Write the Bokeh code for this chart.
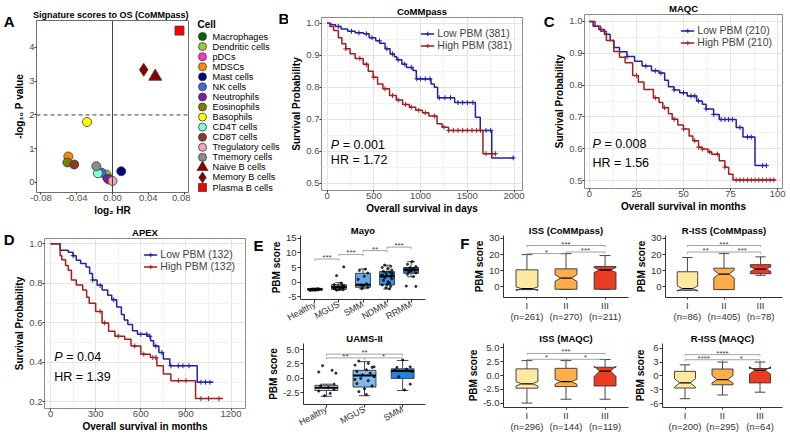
import numpy as np
from bokeh.plotting import figure
from bokeh.layouts import row, column
from bokeh.models import (ColumnDataSource, Span, Legend, LegendItem,
                          FixedTicker, LinearAxis, Range1d, NumeralTickFormatter)
from bokeh.core.properties import value
from bokeh.embed import file_html
from bokeh.resources import INLINE

FONT = "Liberation Sans"

# ---------------- Panel A data ----------------
cells = ["Macrophages", "Dendritic cells", "pDCs", "MDSCs", "Mast cells", "NK cells",
         "Neutrophils", "Eosinophils", "Basophils", "CD4T cells", "CD8T cells",
         "Tregulatory cells", "Tmemory cells", "Naive B cells", "Memory B cells", "Plasma B cells"]
log2_hr = [-0.006, -0.0066, -0.0035, -0.0494, 0.0098, -0.0122, -0.0052, -0.0505, -0.0285,
           -0.0163, -0.0428, 0.0000, -0.0181, 0.0478, 0.0349, 0.0749]
neglog_p = [0.15, 0.23, 0.08, 0.77, 0.33, 0.29, 0.11, 0.59, 1.79, 0.27, 0.53, 0.04, 0.48,
            3.14, 3.34, 4.50]
cell_colors = ["#006400", "#9ACD32", "#FF33CC", "#FF8C00", "#000080", "#3A6FE0", "#7B1FA2",
               "#808000", "#FFFF00", "#7FFFD4", "#8B3A2B", "#F4A6AE", "#8C8C8C", "#8B0000",
               "#8B0000", "#FF0000"]
cell_markers = ["circle"] * 13 + ["triangle", "diamond", "square"]

# ---------------- KM data ----------------
b_low_t = [0, 40, 90, 150, 220, 300, 390, 450, 520, 562, 620, 674, 720, 744, 800, 849, 919, 954,
           1112, 1147, 1182, 1364, 1586, 1638, 1761, 2000]
b_low_s = [1.0, 0.995, 0.99, 0.982, 0.975, 0.97, 0.967, 0.955, 0.945, 0.9375, 0.92, 0.904, 0.895,
           0.886, 0.872, 0.862, 0.852, 0.826, 0.81, 0.80, 0.767, 0.752, 0.706, 0.665, 0.579, 0.579]
b_low_cens = [120, 260, 340, 420, 480, 560, 640, 700, 760, 830, 900, 960, 1000, 1050, 1100, 1200,
              1260, 1320, 1400, 1450, 1500, 1560, 1700, 1750, 1990]
b_high_t = [0, 30, 70, 120, 158, 200, 246, 300, 386, 440, 492, 540, 597, 668, 740, 808, 880, 948,
            1020, 1088, 1176, 1230, 1299, 1667, 1808]
b_high_s = [1.0, 0.99, 0.977, 0.955, 0.936, 0.92, 0.905, 0.89, 0.872, 0.85, 0.831, 0.81, 0.795,
            0.774, 0.76, 0.746, 0.737, 0.728, 0.72, 0.71, 0.686, 0.675, 0.665, 0.592, 0.592]
b_high_cens = [200, 350, 420, 500, 620, 700, 760, 840, 900, 980, 1050, 1150, 1250, 1300, 1350,
               1400, 1450, 1500, 1550, 1600, 1640, 1700, 1760, 1800]

c_low_t = [0, 2, 5, 8, 11, 13, 16, 20, 24, 28, 33, 37, 40, 42, 45, 48, 52, 57, 60, 62, 66, 69,
           78, 81.6, 88, 94]
c_low_s = [1.0, 0.985, 0.975, 0.96, 0.94, 0.918, 0.905, 0.89, 0.875, 0.86, 0.845, 0.838, 0.815,
           0.795, 0.785, 0.776, 0.766, 0.75, 0.74, 0.725, 0.708, 0.692, 0.667, 0.637, 0.547, 0.547]
c_low_cens = [20, 30, 35, 38, 45, 50, 54, 56, 58, 62, 66, 70, 72, 74, 76, 80, 84, 86, 92, 94]
c_high_t = [0, 3, 6, 9, 13, 16, 19, 23, 26, 29, 34, 37, 39, 42, 44, 47, 50, 53, 55, 58, 60, 63,
            65, 69, 72, 74, 76.3, 99]
c_high_s = [1.0, 0.985, 0.969, 0.94, 0.906, 0.888, 0.87, 0.83, 0.81, 0.786, 0.76, 0.745, 0.729,
            0.71, 0.693, 0.675, 0.662, 0.64, 0.625, 0.605, 0.599, 0.59, 0.583, 0.562, 0.542,
            0.52, 0.502, 0.502]
c_high_cens = [25, 35, 40, 45, 50, 56, 58, 60, 64, 68, 72, 78, 80, 82, 84, 86, 88, 90, 92, 94,
               96, 98]

d_low_t = [0, 64, 118, 150, 171, 200, 236, 260, 279, 310, 343, 380, 407, 440, 471, 490, 514, 545,
           578, 642, 665, 685, 720, 750, 793, 975, 1082]
d_low_s = [1.0, 0.967, 0.958, 0.94, 0.917, 0.9, 0.883, 0.85, 0.817, 0.79, 0.767, 0.74, 0.717,
           0.68, 0.642, 0.615, 0.592, 0.56, 0.542, 0.533, 0.51, 0.483, 0.45, 0.417, 0.383, 0.30,
           0.30]
d_low_cens = [150, 280, 330, 420, 600, 640, 660, 700, 740, 800, 850, 880, 920, 1000, 1030, 1060]
d_high_t = [0, 64, 75, 100, 118, 139, 171, 214, 240, 257, 300, 343, 386, 428, 493, 535, 600, 664,
            707, 750, 800, 964, 1146]
d_high_s = [1.0, 0.94, 0.92, 0.89, 0.867, 0.817, 0.792, 0.767, 0.73, 0.70, 0.658, 0.60, 0.558,
            0.533, 0.517, 0.483, 0.442, 0.425, 0.383, 0.342, 0.308, 0.217, 0.217]
d_high_cens = [330, 360, 450, 560, 620, 680, 700, 850, 900, 1000, 1050, 1120]

# ---------------- Panel E data ----------------
mayo_groups = ["Healthy", "MGUS", "SMM", "NDMM", "RRMM"]
mayo_lo = [-3.0, -2.8, -2.3, -2.4, 1.8]
mayo_q1 = [-2.8, -2.5, -1.8, -1.0, 3.0]
mayo_med = [-2.5, -1.8, -0.9, 2.0, 4.2]
mayo_q3 = [-2.3, -0.9, 3.0, 3.6, 5.0]
mayo_hi = [-2.1, -0.2, 4.5, 5.8, 7.0]
mayo_pt_grp = [1] * 9 + [2] * 16 + [3] * 10 + [4] * 24 + [5] * 14
mayo_pt_val = [-2.9, -2.7, -2.6, -2.5, -2.5, -2.4, -2.3, -2.8, -2.6,
               5.2, 2.2, -0.4, -0.9, -1.2, -1.5, -1.7, -1.8, -2.0, -2.1, -2.3, -2.5, -2.6, -2.8, -1.4, -1.9,
               4.4, 4.0, 3.1, 2.0, 0.9, -0.6, -1.0, -1.4, -1.9, -2.3,
               5.8, 5.4, 5.0, 4.6, 4.1, 3.7, 3.4, 3.1, 2.8, 2.5, 2.2, 1.9, 1.5, 1.1, 0.6, 0.1, -0.4,
               -1.0, -1.5, -2.0, -2.3, 3.0, 2.0, -0.8,
               7.0, 6.1, 5.3, 4.9, 4.6, 4.3, 4.1, 3.8, 3.5, 3.1, 2.6, 1.9, -1.4, -1.5]
mayo_pt_dx = [-0.2, -0.1, 0.05, 0.15, -0.05, 0.2, 0.1, 0.0, -0.15,
              0.2, -0.1, 0.1, -0.2, 0.15, -0.05, 0.05, 0.2, -0.15, 0.1, -0.2, 0.0, 0.18, -0.1, 0.22, -0.22,
              0.1, -0.15, 0.2, 0.05, -0.2, 0.15, -0.1, 0.0, 0.2, -0.05,
              -0.1, 0.15, -0.2, 0.05, 0.2, -0.15, 0.1, -0.05, 0.2, -0.2, 0.0, 0.15, -0.1, 0.2, -0.15,
              0.05, 0.1, -0.2, 0.15, -0.05, 0.1, 0.22, -0.22, 0.0,
              0.05, -0.15, 0.2, -0.05, 0.1, -0.2, 0.15, 0.0, -0.1, 0.2, -0.15, 0.1, -0.2, 0.2]
mayo_brackets = [(1, 2, 7.9, "***"), (2, 3, 9.5, "***"), (3, 4, 10.8, "**"), (4, 5, 12.0, "***")]

uams_groups = ["Healthy", "MGUS", "SMM"]
uams_lo = [-3.1, -3.0, -2.1]
uams_q1 = [-2.1, -1.5, 0.0]
uams_med = [-1.6, 0.5, 1.3]
uams_q3 = [-1.2, 1.4, 1.65]
uams_hi = [-1.0, 2.9, 3.1]
uams_pt_grp = [1] * 11 + [2] * 18 + [3] * 9
uams_pt_val = [2.2, 1.4, 1.1, 0.9, -1.0, -1.3, -1.6, -1.9, -2.2, -2.6, -3.0,
               3.0, 2.6, 2.3, 1.9, 1.5, 1.2, 0.9, 0.6, 0.3, 0.0, -0.4, -0.9, -1.3, -1.8, -2.3, -2.8, 2.0, -0.2,
               3.2, 2.0, 1.9, 1.6, 1.4, 1.2, 0.3, -1.0, -2.0]
uams_pt_dx = [-0.1, 0.15, -0.2, 0.25, 0.2, -0.15, 0.05, 0.2, -0.2, 0.1, -0.05,
              -0.15, 0.1, -0.25, 0.2, 0.05, -0.2, 0.15, -0.05, 0.25, -0.1, 0.1, -0.2, 0.2, 0.0, -0.15, 0.05, 0.25, -0.25,
              0.0, 0.2, -0.15, 0.1, -0.2, 0.25, -0.1, 0.2, 0.05]
uams_brackets = [(1, 3, 4.2, "**"), (1, 2, 3.55, "**"), (2, 3, 3.55, "*")]

# ---------------- Panel F data ----------------
stage_labels = ["I", "II", "III"]
iss_c_n = ["(n=261)", "(n=270)", "(n=211)"]
iss_c_lo = [-1.6, -1.4, -1.4]
iss_c_q1 = [-1.6, -1.4, -1.4]
iss_c_med = [-1.0, 5.5, 10.5]
iss_c_q3 = [10.6, 11.2, 12.6]
iss_c_hi = [20.0, 20.6, 19.4]
iss_c_nlo = [-2.2, 3.5, 9.0]
iss_c_nhi = [0.0, 7.6, 12.0]
iss_c_br = [(1, 3, 25.6, "***"), (1, 2, 20.6, "*"), (2, 3, 21.6, "***")]

riss_c_n = ["(n=86)", "(n=405)", "(n=78)"]
riss_c_lo = [-2.0, -1.6, 7.2]
riss_c_q1 = [-2.0, -1.6, 8.2]
riss_c_med = [-1.0, 8.0, 11.0]
riss_c_q3 = [9.4, 11.6, 13.8]
riss_c_hi = [18.2, 20.6, 18.6]
riss_c_nlo = [-2.6, 5.5, 9.6]
riss_c_nhi = [0.6, 10.5, 12.4]
riss_c_br = [(1, 3, 25.6, "***"), (1, 2, 21.6, "**"), (2, 3, 21.6, "***")]

iss_m_n = ["(n=296)", "(n=144)", "(n=119)"]
iss_m_lo = [-5.0, -4.3, -4.3]
iss_m_q1 = [-2.3, -2.0, -1.9]
iss_m_med = [-1.5, -1.1, 0.8]
iss_m_q3 = [1.2, 1.3, 1.5]
iss_m_hi = [2.7, 2.7, 2.9]
iss_m_nlo = [-1.9, -1.6, -0.2]
iss_m_nhi = [-1.1, -0.7, 1.7]
iss_m_br = [(1, 3, 4.0, "***"), (1, 2, 2.94, "*"), (2, 3, 2.94, "*")]

riss_m_n = ["(n=200)", "(n=295)", "(n=64)"]
riss_m_lo = [-4.9, -4.1, -3.5]
riss_m_q1 = [-2.6, -1.9, -1.5]
riss_m_med = [-1.5, -0.8, 1.2]
riss_m_q3 = [1.0, 1.5, 1.6]
riss_m_hi = [2.4, 3.0, 3.0]
riss_m_nlo = [-2.4, -1.5, 0.4]
riss_m_nhi = [-0.6, 0.1, 2.0]
riss_m_br = [(1, 3, 4.6, "****"), (1, 2, 3.5, "****"), (2, 3, 3.5, "*")]

# ---------------- helpers ----------------
def base_fig(w, h, xr, yr, mb, title=None, talign="center"):
    p = figure(width=w, height=h, x_range=xr, y_range=yr, output_backend="svg",
               toolbar_location=None, min_border_left=mb[0], min_border_right=mb[1],
               min_border_top=mb[2], min_border_bottom=mb[3], title=title)
    p.frame_align = False
    p.background_fill_color = "white"
    p.border_fill_color = "white"
    if title:
        p.title.align = talign
        p.title.text_font = FONT
        p.title.text_font_size = "9.5px"
        p.title.text_font_style = "bold"
        p.title.text_color = "black"
        p.title.text_line_height = 1.0
        p.title.standoff = 1
        p.title.offset = 0
    return p


def style_axis(ax, tick_size="9.5px", color="#4d4d4d", label_size="10px"):
    ax.major_label_text_font = FONT
    ax.major_label_text_font_size = tick_size
    ax.major_label_text_color = color
    ax.major_label_text_line_height = 1.0
    ax.axis_label_text_font = FONT
    ax.axis_label_text_font_size = label_size
    ax.axis_label_text_font_style = "bold"
    ax.axis_label_text_color = "black"
    ax.axis_label_text_line_height = 1.0
    ax.major_tick_in = 0
    ax.major_tick_out = 3
    ax.major_tick_line_color = "#333333"
    ax.minor_tick_line_color = None
    ax.minor_tick_out = 0
    ax.major_label_standoff = 1
    ax.axis_label_standoff = 1


def letter_axis(p, txt, yval, standoff=1):
    ax = LinearAxis(ticker=FixedTicker(ticks=[yval]), major_label_overrides={yval: txt})
    ax.axis_line_color = None
    ax.major_tick_line_color = None
    ax.minor_tick_line_color = None
    ax.major_tick_out = 0
    ax.major_tick_in = 0
    ax.minor_tick_out = 0
    ax.major_label_standoff = standoff
    ax.major_label_orientation = "horizontal"
    ax.major_label_text_font = FONT
    ax.major_label_text_font_size = "15px"
    ax.major_label_text_font_style = "bold"
    ax.major_label_text_color = "black"
    ax.major_label_text_line_height = 1.0
    p.add_layout(ax, "left")


def surv_at(t, s, c):
    t = np.asarray(t, dtype=float)
    s = np.asarray(s, dtype=float)
    idx = np.searchsorted(t, np.asarray(c, dtype=float), side="right") - 1
    return s[idx]


BLUE = "#2222A8"
RED = "#A81C1C"


def km_fig(w, h, mb, xr, yr, xt, xminor, yt, yminor, title, xlabel, curves, labels,
           ptxt, hrtxt, txt_x, p_y, hr_y):
    p = base_fig(w, h, Range1d(*xr), Range1d(*yr), mb, title)
    p.xaxis.ticker = FixedTicker(ticks=xt)
    p.yaxis.ticker = FixedTicker(ticks=yt)
    p.xaxis.formatter = NumeralTickFormatter(format="0")
    p.yaxis.formatter = NumeralTickFormatter(format="0.0")
    p.xgrid.ticker = FixedTicker(ticks=xt, minor_ticks=xminor)
    p.ygrid.ticker = FixedTicker(ticks=yt, minor_ticks=yminor)
    for g in (p.xgrid, p.ygrid):
        g.grid_line_color = "#e4e4e4"
        g.minor_grid_line_color = "#f1f1f1"
    p.outline_line_color = "#8a8a8a"
    p.xaxis.axis_label = xlabel
    p.yaxis.axis_label = "Survival Probability"
    for ax in (p.xaxis, p.yaxis):
        style_axis(ax)
        ax.axis_line_color = None
        ax.major_tick_out = 2
        ax.major_label_standoff = 0
    items = []
    for (t, s, cens, col), lab in zip(curves, labels):
        r = p.step(x=t, y=s, mode="after", line_color=col, line_width=1.5)
        c = p.scatter(x=cens, y=surv_at(t, s, cens), marker="cross", size=5,
                      line_color=col, line_width=1)
        items.append(LegendItem(label=lab, renderers=[r, c]))
    leg = Legend(items=items, location="top_right", border_line_color=None,
                 background_fill_alpha=0, label_text_font=FONT, label_text_font_size="10.5px",
                 glyph_width=14, glyph_height=11, label_height=11, spacing=0, padding=2,
                 margin=10, label_standoff=3)
    p.add_layout(leg)
    p.text(x=[txt_x], y=[p_y], text=["P"], text_font=value(FONT), text_font_size="12.5px",
           text_font_style="italic", text_baseline="middle", text_color="black")
    p.text(x=[txt_x], y=[p_y], x_offset=12, text=[ptxt], text_font=value(FONT),
           text_font_size="12.5px", text_baseline="middle", text_color="black")
    p.text(x=[txt_x], y=[hr_y], text=[hrtxt], text_font=value(FONT), text_font_size="12.5px",
           text_baseline="middle", text_color="black")
    return p


def box_fig(w, h, mb, xr, yr, yt, yfmt, title):
    p = base_fig(w, h, Range1d(*xr), Range1d(*yr), mb, title)
    p.title.standoff = 0
    p.xgrid.visible = False
    p.ygrid.visible = False
    p.outline_line_color = None
    p.yaxis.ticker = FixedTicker(ticks=yt)
    p.yaxis.formatter = NumeralTickFormatter(format=yfmt)
    p.yaxis.axis_label = "PBM score"
    for ax in (p.xaxis, p.yaxis):
        style_axis(ax, color="#333333")
        ax.axis_line_color = "#333333"
    return p


def add_boxes(p, n, lo, q1, med, q3, hi, nlo, nhi, colors, hw, notch, med_w):
    xs = list(range(1, n + 1))
    polx, poly = [], []
    ind = hw * 0.5 if notch else 0.0
    for i, x in enumerate(xs):
        if notch:
            polx.append([x - hw, x + hw, x + hw, x + hw - ind, x + hw, x + hw, x - hw, x - hw,
                         x - hw + ind, x - hw])
            poly.append([q1[i], q1[i], nlo[i], med[i], nhi[i], q3[i], q3[i], nhi[i], med[i], nlo[i]])
        else:
            polx.append([x - hw, x + hw, x + hw, x - hw])
            poly.append([q1[i], q1[i], q3[i], q3[i]])
    p.segment(x0=xs, y0=q3, x1=xs, y1=hi, line_color="#333333", line_width=0.9)
    p.segment(x0=xs, y0=q1, x1=xs, y1=lo, line_color="#333333", line_width=0.9)
    p.segment(x0=[x - hw / 2 for x in xs], y0=hi, x1=[x + hw / 2 for x in xs], y1=hi,
              line_color="#333333", line_width=0.9)
    p.segment(x0=[x - hw / 2 for x in xs], y0=lo, x1=[x + hw / 2 for x in xs], y1=lo,
              line_color="#333333", line_width=0.9)
    p.patches(xs=polx, ys=poly, fill_color=colors, line_color="#333333", line_width=0.9)
    p.segment(x0=[x - hw + ind for x in xs], y0=med, x1=[x + hw - ind for x in xs], y1=med,
              line_color="black", line_width=med_w)


def add_brackets(p, br, tip):
    x0, y0, x1, y1, tx, ty, tl = [], [], [], [], [], [], []
    for a, b, y, lab in br:
        x0 += [a, a, b]
        y0 += [y, y, y]
        x1 += [b, a, b]
        y1 += [y, y - tip, y - tip]
        tx.append((a + b) / 2)
        ty.append(y)
        tl.append(lab)
    p.segment(x0=x0, y0=y0, x1=x1, y1=y1, line_color="#8c8c8c", line_width=0.8)
    p.text(x=tx, y=ty, text=tl, text_font=value(FONT), text_font_size="8px",
           text_align="center", text_baseline="bottom", y_offset=3, text_color="#444444")


def stage_axes(p, nlabels):
    p.xaxis.ticker = FixedTicker(ticks=[1, 2, 3])
    p.xaxis.major_label_overrides = {i + 1: s for i, s in enumerate(stage_labels)}
    p.xaxis.major_label_standoff = 0
    p.xaxis.major_tick_out = 2
    ax2 = LinearAxis(ticker=FixedTicker(ticks=[1, 2, 3]),
                     major_label_overrides={i + 1: s for i, s in enumerate(nlabels)})
    style_axis(ax2, color="#333333")
    ax2.axis_line_color = None
    ax2.major_tick_line_color = None
    ax2.major_tick_out = 0
    ax2.major_label_standoff = -3
    p.add_layout(ax2, "below")


# ---------------- Panel A ----------------
pa = base_fig(190, 222, Range1d(-0.085, 0.085), Range1d(-0.3, 4.8), (29, 2, 20, 30),
              "Signature scores to OS (CoMMpass)", talign="right")
pa.title.text_font_size = "9px"
pa.xgrid.visible = False
pa.ygrid.visible = False
pa.outline_line_color = "#6e6e6e"
pa.xaxis.ticker = FixedTicker(ticks=[-0.08, -0.04, 0.0, 0.04, 0.08])
pa.xaxis.formatter = NumeralTickFormatter(format="0.00")
pa.yaxis.ticker = FixedTicker(ticks=[0, 1, 2, 3, 4])
pa.xaxis.axis_label = "log\u2082 HR"
pa.yaxis.axis_label = "-log\u2081\u2080 P value"
for ax in (pa.xaxis, pa.yaxis):
    style_axis(ax)
    ax.axis_line_color = None
    ax.major_tick_out = 2
    ax.major_label_standoff = 0
letter_axis(pa, "A", 4.78, standoff=-3)
pa.add_layout(Span(location=0, dimension="height", line_color="#444444", line_width=1))
pa.add_layout(Span(location=2, dimension="width", line_color="#444444", line_width=1,
                   line_dash="4 3"))
sizes = [9 if m == "circle" else (13 if m in ("triangle", "diamond") else 9) for m in cell_markers]
src_a = ColumnDataSource(dict(x=log2_hr, y=neglog_p, c=cell_colors, m=cell_markers, s=sizes))
pa.scatter("x", "y", source=src_a, marker="m", size="s", fill_color="c",
           line_color="#3a3a3a", line_width=0.8)

# legend as its own small panel (also carries the letter of panel B)
pl = figure(width=98, height=222, x_range=Range1d(0, 98), y_range=Range1d(18.47, -3.575),
            output_backend="svg", toolbar_location=None, x_axis_location=None,
            y_axis_location=None, min_border=0, title=None)
pl.frame_align = False
pl.xgrid.visible = False
pl.ygrid.visible = False
pl.outline_line_color = None
idx = list(range(len(cells)))
lsizes = [8 if m == "circle" else (11 if m in ("triangle", "diamond") else 8) for m in cell_markers]
src_l = ColumnDataSource(dict(y=idx, x=[12] * len(cells), c=cell_colors, m=cell_markers,
                              s=lsizes, t=cells, tx=[22] * len(cells)))
pl.scatter("x", "y", source=src_l, marker="m", size="s", fill_color="c", line_color="#3a3a3a",
           line_width=0.8)
pl.text("tx", "y", text="t", source=src_l, text_font=value(FONT), text_font_size="9.2px",
        text_baseline="middle", text_color="black")
pl.text(x=[7], y=[-1.19], text=["Cell"], text_font=value(FONT), text_font_size="10px",
        text_font_style="bold", text_baseline="middle", text_color="black")
pl.text(x=[88], y=[-1.75], text=["B"], text_font=value(FONT), text_font_size="15px",
        text_font_style="bold", text_baseline="middle", text_color="black")

# ---------------- Panels B, C, D ----------------
pb = km_fig(252, 222, (30, 18, 17, 32), (-60, 2090), (0.477, 1.018),
            [0, 500, 1000, 1500, 2000], [250, 750, 1250, 1750],
            [0.5, 0.6, 0.7, 0.8, 0.9, 1.0], [0.55, 0.65, 0.75, 0.85, 0.95],
            "CoMMpass", "Overall survival in days",
            [(b_low_t, b_low_s, b_low_cens, BLUE), (b_high_t, b_high_s, b_high_cens, RED)],
            ["Low PBM (381)", "High PBM (381)"], "= 0.001", "HR = 1.72", 40, 0.618, 0.571)

pc = km_fig(250, 222, (40, 8, 13, 34), (-2.6, 102.6), (0.475, 1.022),
            [0, 25, 50, 75, 100], [12.5, 37.5, 62.5, 87.5],
            [0.5, 0.6, 0.7, 0.8, 0.9, 1.0], [0.55, 0.65, 0.75, 0.85, 0.95],
            "MAQC", "Overall survival in months",
            [(c_low_t, c_low_s, c_low_cens, BLUE), (c_high_t, c_high_s, c_high_cens, RED)],
            ["Low PBM (210)", "High PBM (210)"], "= 0.008", "HR = 1.56", 1.6, 0.616, 0.556)
letter_axis(pc, "C", 1.0, standoff=-3)

pd_ = km_fig(250, 212, (37, 5, 16, 24), (-40, 1296), (0.167, 1.027),
             [0, 300, 600, 900, 1200], [150, 450, 750, 1050],
             [0.2, 0.4, 0.6, 0.8, 1.0], [0.3, 0.5, 0.7, 0.9],
             "APEX", "Overall survival in months",
             [(d_low_t, d_low_s, d_low_cens, BLUE), (d_high_t, d_high_s, d_high_cens, RED)],
             ["Low PBM (132)", "High PBM (132)"], "= 0.04", "HR = 1.39", 24, 0.43, 0.326)
letter_axis(pd_, "D", 1.02, standoff=-3)

# ---------------- Panel E ----------------
pm = box_fig(180, 108, (50, 5, 10, 31), (0.4, 5.6), (-6, 16), [-5, 0, 5, 10, 15], "0", "Mayo")
pm.xaxis.ticker = FixedTicker(ticks=[1, 2, 3, 4, 5])
pm.xaxis.major_label_overrides = {i + 1: g for i, g in enumerate(mayo_groups)}
pm.xaxis.major_label_orientation = 0.5
pm.xaxis.major_label_text_font_size = "9px"
add_boxes(pm, 5, mayo_lo, mayo_q1, mayo_med, mayo_q3, mayo_hi, None, None,
          ["#c9dcee", "#a3c9ea", "#62a8ea", "#3b93e3", "#1f7fd8"], 0.31, False, 2)
pm.scatter(x=[g + d for g, d in zip(mayo_pt_grp, mayo_pt_dx)], y=mayo_pt_val, size=2.2,
           color="black", alpha=0.7)
add_brackets(pm, mayo_brackets, 0.6)
letter_axis(pm, "E", 12.5, standoff=4)

pu = box_fig(180, 104, (53, 5, 10, 26), (0.4, 3.6), (-4.52, 6.04), [-2.5, 0, 2.5, 5.0], "0.0",
             "UAMS-II")
pu.xaxis.ticker = FixedTicker(ticks=[1, 2, 3])
pu.xaxis.major_label_overrides = {i + 1: g for i, g in enumerate(uams_groups)}
pu.xaxis.major_label_orientation = 0.5
pu.xaxis.major_label_text_font_size = "9px"
add_boxes(pu, 3, uams_lo, uams_q1, uams_med, uams_q3, uams_hi, None, None,
          ["#d5e5f4", "#80b9ec", "#1e83e2"], 0.3, False, 2)
pu.scatter(x=[g + d for g, d in zip(uams_pt_grp, uams_pt_dx)], y=uams_pt_val, size=2.2,
           color="black", alpha=0.7)
add_brackets(pu, uams_brackets, 0.25)

# ---------------- Panel F ----------------
FCOL = ["#FEE9A0", "#FDAE4B", "#EA3C22"]
f1 = box_fig(202, 108, (73, 4, 10, 33), (0.4, 3.6), (-6.5, 31.8), [0, 10, 20, 30], "0",
             "ISS (CoMMpass)")
stage_axes(f1, iss_c_n)
add_boxes(f1, 3, iss_c_lo, iss_c_q1, iss_c_med, iss_c_q3, iss_c_hi, iss_c_nlo, iss_c_nhi,
          FCOL, 0.28, True, 1.3)
add_brackets(f1, iss_c_br, 0.9)
letter_axis(f1, "F", 27)

f2 = box_fig(158, 108, (28, 8, 10, 33), (0.4, 3.6), (-6.5, 31.8), [0, 10, 20, 30], "0",
             "R-ISS (CoMMpass)")
stage_axes(f2, riss_c_n)
add_boxes(f2, 3, riss_c_lo, riss_c_q1, riss_c_med, riss_c_q3, riss_c_hi, riss_c_nlo, riss_c_nhi,
          FCOL, 0.28, True, 1.3)
add_brackets(f2, riss_c_br, 0.9)

f3 = box_fig(202, 104, (73, 4, 11, 27), (0.4, 3.6), (-5.8, 5.8), [-5, -2.5, 0, 2.5, 5], "0.0",
             "ISS (MAQC)")
stage_axes(f3, iss_m_n)
add_boxes(f3, 3, iss_m_lo, iss_m_q1, iss_m_med, iss_m_q3, iss_m_hi, iss_m_nlo, iss_m_nhi,
          FCOL, 0.28, True, 1.3)
add_brackets(f3, iss_m_br, 0.25)

f4 = box_fig(158, 104, (28, 8, 11, 27), (0.4, 3.6), (-6.8, 7.0), [-6, -3, 0, 3, 6], "0",
             "R-ISS (MAQC)")
stage_axes(f4, riss_m_n)
add_boxes(f4, 3, riss_m_lo, riss_m_q1, riss_m_med, riss_m_q3, riss_m_hi, riss_m_nlo, riss_m_nhi,
          FCOL, 0.28, True, 1.3)
add_brackets(f4, riss_m_br, 0.3)

layout = column(
    row(pa, pl, pb, pc),
    row(pd_, column(pm, pu), column(row(f1, f2), row(f3, f4))),
)

open("out.html", "w").write(file_html(layout, INLINE))
